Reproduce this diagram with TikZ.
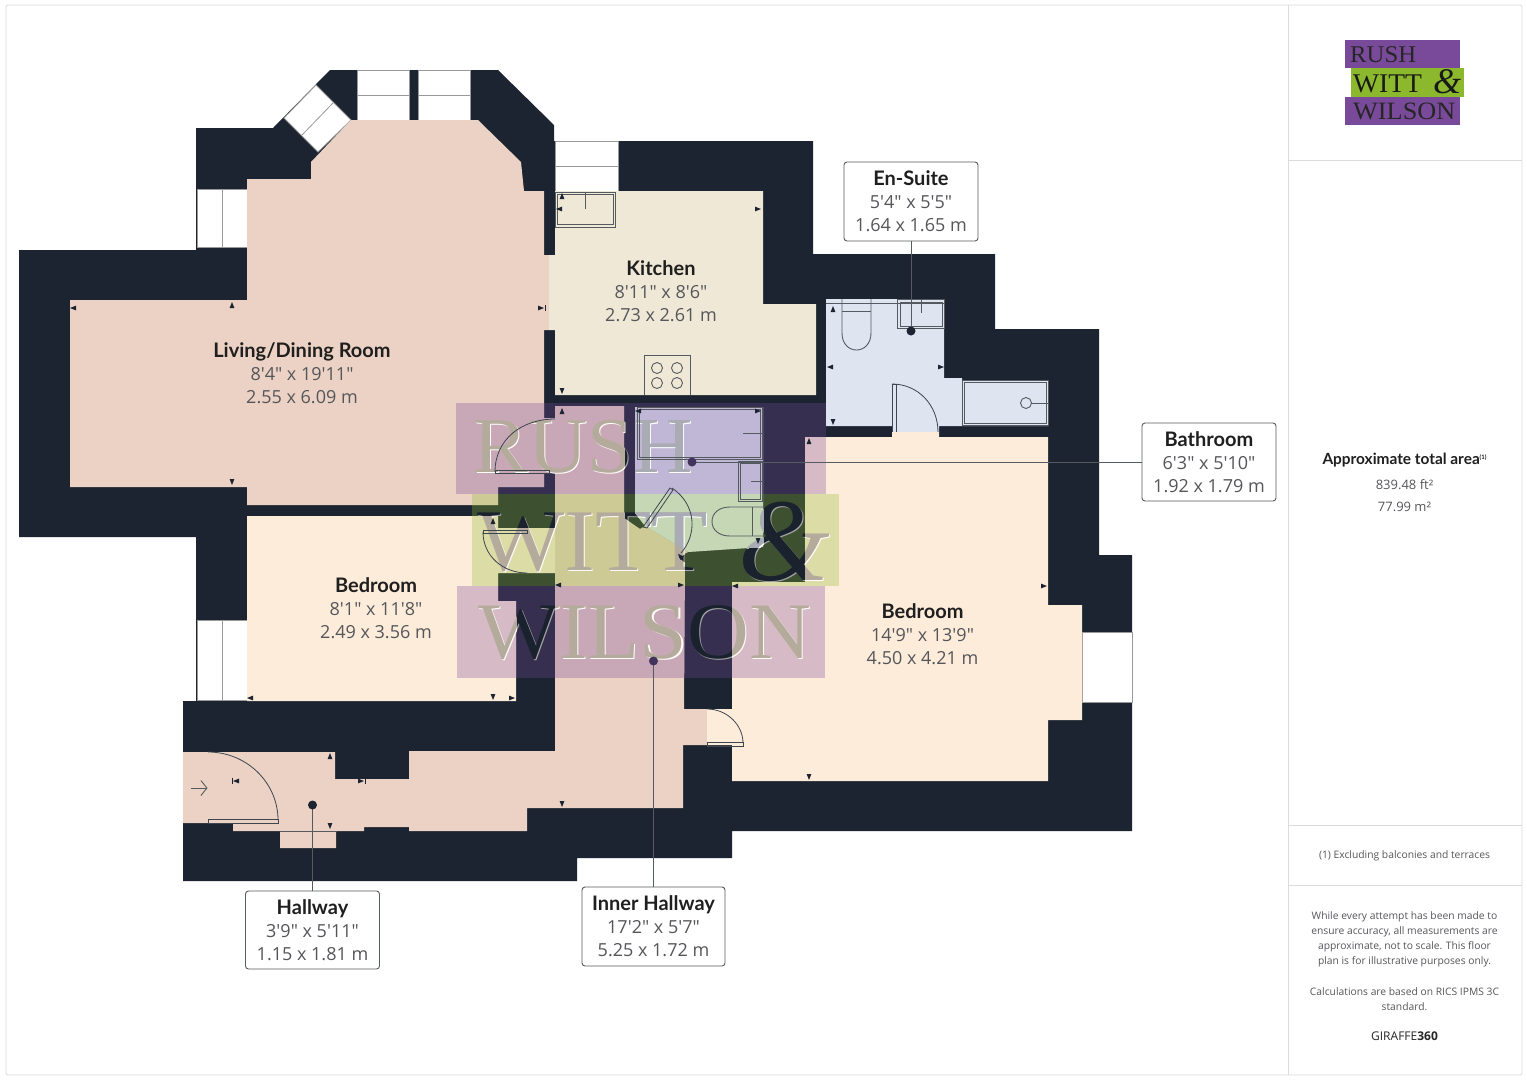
\documentclass[tikz,border=0pt]{standalone}
\usepackage{graphicx}
\usepackage{fontspec}
\usetikzlibrary{arrows.meta}
\setmainfont{Open Sans}
\newfontfamily\titlefont{Lato}[BoldFont={Lato Bold}]
\newfontfamily\subfont{Open Sans}
\newfontfamily\wmfont{Liberation Serif}
\newfontfamily\wmand{Liberation Serif Italic}

\definecolor{wallcol}{HTML}{1B2430}
\definecolor{hallcol}{HTML}{EBD2C4}
\definecolor{kitchencol}{HTML}{EFE8D6}
\definecolor{bathcol}{HTML}{DFE5F0}
\definecolor{bedcol}{HTML}{FEECDB}
\definecolor{linecol}{HTML}{555A60}
\definecolor{subcol}{HTML}{55565A}
\definecolor{logopurple}{HTML}{7A4A9A}
\definecolor{logogreen}{HTML}{8CB82E}
\definecolor{wmbeige}{HTML}{B5AB9C}
\definecolor{wmblue}{HTML}{A9ABB5}

\tikzset{
	wall/.style={fill=wallcol},
	glass/.style={fill=white, draw=gray!80, line width=0.8pt},
	fixture/.style={draw=linecol, line width=0.9pt},
	doorleaf/.style={draw=wallcol!85, line width=0.8pt},
	leader/.style={draw=linecol, line width=0.9pt},
	sheetline/.style={draw=black!14, line width=0.8pt},
	roomlabel/.style={align=center, text=subcol, font=\subfont\fontsize{18}{23}\selectfont, inner sep=0pt},
	labelbox/.style={roomlabel, draw=linecol, line width=0.9pt, rounded corners=3pt, fill=white},
	sidetext/.style={align=center, text=subcol, font=\subfont\fontsize{10.3}{15}\selectfont, inner sep=0pt},
	wmword/.style={anchor=base west, inner sep=0pt},
	tintpurple/.style={fill=logopurple, opacity=0.3},
	tintgreen/.style={fill=logogreen, opacity=0.3}
}

\newcommand{\roomtext}[3]{{\titlefont\bfseries\fontsize{20}{23}\selectfont\color{black!88}#1}\\#2\\#3}

% rooms, all in reference pixels
\newcommand{\roomLiving}{(247,179) -- (311,179) -- (311,162) -- (351,120) -- (478,120) -- (521,162) -- (524,191) -- (544,191) -- (544,255) -- (549,255) -- (549,330) -- (544,330) -- (544,418) -- (555,418) -- (555,473) -- (544,473) -- (544,487) -- (498,487) -- (498,505) -- (247,505) -- (247,487) -- (70,487) -- (70,300) -- (247,300) -- cycle}
\newcommand{\roomKitchen}{(555,191) -- (763,191) -- (763,304) -- (816,304) -- (816,395) -- (555,395) -- (555,330) -- (549,330) -- (549,255) -- (555,255) -- cycle}
\newcommand{\roomEnSuite}{(826,299) -- (944,299) -- (944,378) -- (962,378) -- (962,380) -- (1048,380) -- (1048,426) -- (939,426) -- (939,432) -- (892,432) -- (892,426) -- (826,426) -- cycle}
\newcommand{\roomBath}{(635,407) -- (763,407) -- (763,547) -- (688,552) -- (645,526) -- (635,513) -- cycle}
\newcommand{\roomHall}{(555,406) -- (624,406) -- (624,518) -- (640,529) -- (645,526) -- (688,552) -- (678,557) -- (685,563) -- (684,709) -- (707,709) -- (707,745) -- (683,745) -- (683,808) -- (527,808) -- (527,831) -- (409,831) -- (409,827) -- (364,827) -- (364,831) -- (336,831) -- (336,848) -- (280,848) -- (280,831) -- (233,831) -- (233,823) -- (183,823) -- (183,752) -- (335,752) -- (335,779) -- (409,779) -- (409,751) -- (555,751) -- cycle}
\newcommand{\roomBedOne}{(247,516) -- (498,516) -- (498,528) -- (555,528) -- (555,573) -- (498,573) -- (498,601) -- (516,601) -- (516,701) -- (247,701) -- cycle}
\newcommand{\roomBedTwo}{(805,437) -- (892,437) -- (892,432) -- (939,432) -- (939,437) -- (1048,437) -- (1048,605) -- (1082,605) -- (1082,720) -- (1048,720) -- (1048,781) -- (732,781) -- (732,745) -- (707,745) -- (707,709) -- (732,709) -- (732,582) -- (805,582) -- cycle}

\newcommand{\wmtint}{%
	\fill[tintpurple] (456,403) rectangle (826,494);
	\fill[tintgreen] (472,494) rectangle (839,586);
	\fill[tintpurple] (457,586) rectangle (825,678);
}
% the three words of the mark: main colour, then colour of the edge
\newcommand{\wmwords}[2]{%
	\foreach \dx/\wcol in {1.2/#2,0/#1}{
		\node[wmword, text=\wcol] (wmRush) at (473+\dx,472+\dx) {\wmfont\fontsize{79}{79}\selectfont\scalebox{1.04}[1]{RUSH}};
		\node[wmword, text=\wcol] (wmWitt) at (477+\dx,570+\dx) {\wmfont\fontsize{88}{88}\selectfont\scalebox{1.05}[1]{WITT}};
		\node[wmword, text=\wcol] (wmAnd) at (738+\dx,580+\dx) {\wmand\fontsize{118}{118}\selectfont\&};
		\node[wmword, text=\wcol] (wmWilson) at (478+\dx,658+\dx) {\wmfont\fontsize{80}{80}\selectfont\scalebox{1.07}[1]{WILSON}};
	}
}

\begin{document}
\begin{tikzpicture}[x=1pt, y=-1pt]
	\useasboundingbox (0,0) rectangle (1527,1080);
	\fill[white] (0,0) rectangle (1527,1080);

	% sheet
	\draw[sheetline, rounded corners=2pt] (6,5) rectangle (1522,1075);
	\draw[sheetline] (1288,5) -- (1288,1075);
	\draw[sheetline] (1288,160) -- (1522,160);
	\draw[sheetline] (1288,825) -- (1522,825);
	\draw[sheetline] (1288,885) -- (1522,885);

	% outer walls
	\fill[wall] (330,70) -- (498,70) -- (554,125) -- (554,141) -- (813,141) -- (813,254) -- (995,254) -- (995,329) -- (1099,329) -- (1099,555) -- (1132,555) -- (1132,831) -- (732,831) -- (732,858) -- (577,858) -- (577,881) -- (183,881) -- (183,701) -- (196,701) -- (196,537) -- (19,537) -- (19,250) -- (196,250) -- (196,128) -- (273,128) -- cycle;

	% windows
	\draw[glass] (357,70) rectangle (409,120);
	\draw[glass] (418,70) rectangle (470,120);
	\draw[glass] (357,95) -- (409,95) (418,95) -- (470,95);
	\draw[glass] (316,85) -- (351,120) -- (318,152) -- (284,118) -- cycle;
	\draw[glass] (333,103) -- (302,135);
	\draw[glass] (197,189) rectangle (247,247);
	\draw[glass] (222,189) -- (222,247);
	\draw[glass] (197,620) rectangle (247,700);
	\draw[glass] (222,620) -- (222,700);
	\draw[glass] (555,141) rectangle (618,191);
	\draw[glass] (555,166) -- (618,166);
	\draw[glass] (1082,632) rectangle (1132,702);

	% mark over the walls
	\wmtint
	\wmwords{wallcol!95!black}{gray!70}

	% floors
	\fill[hallcol] \roomLiving;
	\fill[hallcol] \roomHall;
	\fill[kitchencol] \roomKitchen;
	\fill[bathcol] \roomEnSuite;
	\fill[bathcol] \roomBath;
	\fill[bedcol] \roomBedOne;
	\fill[bedcol] \roomBedTwo;

	% mark over the floors
	\begin{scope}
		\clip \roomLiving \roomHall \roomKitchen \roomEnSuite \roomBath \roomBedOne \roomBedTwo;
		\wmtint
		\wmwords{wmbeige}{white!85!bedcol}
	\end{scope}
	\begin{scope}
		\clip \roomBath;
		\wmwords{wmblue}{white!90!bathcol}
	\end{scope}

	% kitchen fittings
	\draw[fixture] (555,192) rectangle (615,227);
	\draw[fixture] (557,194) rectangle (613,224);
	\draw[fixture] (585,192) -- (585,209);
	\draw[fixture] (644,395) -- (644,355) -- (690,355) -- (690,395);
	\foreach \hx in {657,677}
		\foreach \hy in {368,383}
			\draw[fixture] (\hx,\hy) circle (5.5pt);

	% en-suite fittings
	\draw[fixture, line width=0.6pt] (826,303) -- (944,303);
	\draw[fixture] (842,299) -- (842,333) .. controls (842,344) and (849,350) .. (856.5,350) .. controls (864,350) and (871,344) .. (871,333) -- (871,299);
	\draw[fixture] (842,311) -- (871,311);
	\draw[fixture] (897,299) rectangle (944,328);
	\draw[fixture] (900,302) rectangle (942,326);
	\draw[fixture] (921,299) -- (921,313);
	\draw[fixture] (962,380) rectangle (1048,425);
	\draw[fixture] (964,382) rectangle (1046,423);
	\draw[fixture] (1026,403) circle (5.5pt);
	\draw[fixture] (1031,403) -- (1048,403);

	% bathroom fittings
	\draw[fixture] (637,407) rectangle (762,459);
	\draw[fixture] (639,409) rectangle (760,457);
	\draw[fixture] (743,433) -- (762,433);
	\draw[fixture] (738,461) rectangle (762,501);
	\draw[fixture] (740,463) rectangle (760,499);
	\draw[fixture] (751,481) -- (762,481);
	\draw[fixture] (763,507) -- (730,507) .. controls (719,507) and (712,513) .. (712,521.5) .. controls (712,530) and (719,536) .. (730,536) -- (763,536);
	\draw[fixture] (752,507) -- (752,536);

	% doors
	\draw[doorleaf] (495,472) .. controls (495,439) and (522,419) .. (555,419);
	\draw[doorleaf] (495,470) rectangle (549,473);
	\draw[doorleaf] (483,532) .. controls (483,556) and (503,573) .. (527,573);
	\draw[doorleaf] (483,530) rectangle (527,533);
	\draw[doorleaf] (672,488) .. controls (697,505) and (697,535) .. (681,553);
	\draw[doorleaf] (643,527) -- (670,488) -- (673,490) -- (647,528) -- cycle;
	\draw[doorleaf] (892,384) .. controls (918,384) and (938,405) .. (938,432);
	\draw[doorleaf] (892,432) -- (892,384) -- (896,384) -- (896,432);
	\draw[doorleaf] (707,709) .. controls (727,709) and (743,725) .. (743,743);
	\draw[doorleaf] (707,742) rectangle (743,746);
	\draw[doorleaf] (208,752) .. controls (247,752) and (278,783) .. (278,820);
	\draw[doorleaf] (208,819) rectangle (278,823);
	\draw[fixture, line width=0.6pt] (280,831) -- (336,831);

	% entrance
	\coordinate (entryA) at (191,788);
	\coordinate (entryB) at (207.5,788);
	\draw[fixture, -{Straight Barb[length=6pt,width=15pt]}] (entryA) -- (entryB);

	% measuring ticks: x/y/direction
	\foreach \tx/\ty/\ta in {73/308/180, 232/305/90, 232/482/-90,
		562/196/90, 559/209/180, 758/209/0, 562/391/-90,
		250/698/180, 493/697/-90, 512/698/0, 493/521/90,
		1044/586/0, 809/777/-90,
		562/411/90, 638/411/180, 758/411/0, 558/585/180, 681/585/0,
		735/586/180, 758/541/-90, 680/556/135, 809/441/90,
		833/309/90, 830/367/180, 941/367/0, 833/422/-90,
		330/756/90, 330/826/-90, 562/804/-90,
		541/308/0, 236/781/180, 361/781/0}
		\fill[wallcol, shift={(\tx,\ty)}, rotate=\ta] (-3,-2.4) -- (3,0) -- (-3,2.4) -- cycle;
	\foreach \tx/\ty/\ta in {541/308/0, 236/781/180, 361/781/0}
		\draw[wallcol, line width=0.6pt, shift={(\tx,\ty)}, rotate=\ta] (4,-3) -- (4,3);

	% names on the floors
	\node[roomlabel] (lblLiving) at (302,373) {\roomtext{Living/Dining Room}{8'4" x 19'11"}{2.55 x 6.09 m}};
	\node[roomlabel] (lblKitchen) at (661,291) {\roomtext{Kitchen}{8'11" x 8'6"}{2.73 x 2.61 m}};
	\node[roomlabel] (lblBedOne) at (376,608) {\roomtext{Bedroom}{8'1" x 11'8"}{2.49 x 3.56 m}};
	\node[roomlabel] (lblBedTwo) at (922.5,634) {\roomtext{Bedroom}{14'9" x 13'9"}{4.50 x 4.21 m}};

	% boxed names and their leaders
	\coordinate (dotEnSuite) at (911,331);
	\coordinate (dotBath) at (692,462);
	\coordinate (dotHall) at (312.5,805);
	\coordinate (dotInner) at (653.5,661);
	\node[labelbox, minimum width=134pt, minimum height=79pt] (boxEnSuite) at (911,201.5) {\roomtext{En-Suite}{5'4" x 5'5"}{1.64 x 1.65 m}};
	\node[labelbox, minimum width=134pt, minimum height=78pt] (boxBath) at (1209,462) {\roomtext{Bathroom}{6'3" x 5'10"}{1.92 x 1.79 m}};
	\node[labelbox, minimum width=134pt, minimum height=78pt] (boxHall) at (312.5,930) {\roomtext{Hallway}{3'9" x 5'11"}{1.15 x 1.81 m}};
	\node[labelbox, minimum width=143pt, minimum height=79pt] (boxInner) at (653.5,926.5) {\roomtext{Inner Hallway}{17'2" x 5'7"}{5.25 x 1.72 m}};
	\draw[leader] (dotEnSuite) -- (boxEnSuite);
	\draw[leader] (dotBath) -- (boxBath);
	\draw[leader] (dotHall) -- (boxHall);
	\draw[leader] (dotInner) -- (boxInner);
	\fill[wallcol] (dotEnSuite) circle (4.5pt);
	\fill[logopurple!40!wallcol] (dotBath) circle (4.5pt);
	\fill[wallcol] (dotHall) circle (4.5pt);
	\fill[logopurple!40!wallcol] (dotInner) circle (4.5pt);

	% logo
	\fill[logopurple] (1345,40) rectangle (1460,68);
	\fill[logogreen] (1351,68) rectangle (1464,97);
	\fill[logopurple] (1345,97) rectangle (1460,125);
	\node[wmword, text=black!85] (logoRush) at (1350,62) {\wmfont\fontsize{24}{24}\selectfont\scalebox{1.03}[1]{RUSH}};
	\node[wmword, text=black!90] (logoWitt) at (1353,92) {\wmfont\fontsize{27}{27}\selectfont\scalebox{1.02}[1]{WITT}};
	\node[wmword, text=black!90] (logoAnd) at (1433,93) {\wmand\fontsize{36}{36}\selectfont\&};
	\node[wmword, text=black!85] (logoWilson) at (1353,119) {\wmfont\fontsize{25}{25}\selectfont\scalebox{1.05}[1]{WILSON}};

	% side panel
	\node[sidetext, text=black!88] (areaTitle) at (1404.5,460) {\titlefont\bfseries\fontsize{15.4}{17}\selectfont Approximate total area\raisebox{5pt}{\fontsize{6}{6}\selectfont(1)}};
	\node[sidetext, font=\subfont\fontsize{13}{15}\selectfont] (areaFt) at (1404.5,484.5) {839.48 ft²};
	\node[sidetext, font=\subfont\fontsize{13}{15}\selectfont] (areaM) at (1404.5,506.5) {77.99 m²};
	\node[sidetext] (noteBalcony) at (1404.5,856) {(1) Excluding balconies and terraces};
	\node[sidetext] (noteDisclaimer) at (1404.5,939) {While every attempt has been made to\\ensure accuracy, all measurements are\\approximate, not to scale. This floor\\plan is for illustrative purposes only.};
	\node[sidetext] (noteCalc) at (1404.5,999) {Calculations are based on RICS IPMS 3C\\standard.};
	\node[sidetext, text=black!85, font=\subfont\fontsize{12}{15}\selectfont] (noteBrand) at (1404.5,1036) {GIRAFFE\textbf{360}};
\end{tikzpicture}
\end{document}
